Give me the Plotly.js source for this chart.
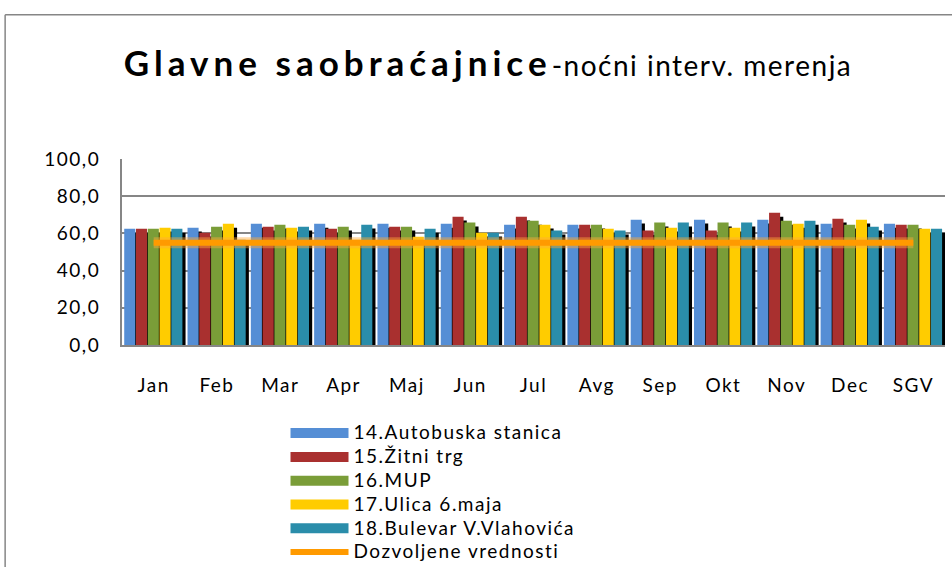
<!DOCTYPE html>
<html>
<head>
<meta charset="utf-8">
<script src="https://cdn.plot.ly/plotly-3.0.1.min.js"></script>
<style>
  html, body { margin: 0; padding: 0; background: #ffffff; }
  #chart { width: 952px; height: 567px; }
  text { letter-spacing: 1.5px; }
</style>
</head>
<body>
<div id="chart"></div>
<script>
// ---- data ----
const months = ["Jan", "Feb", "Mar", "Apr", "Maj", "Jun", "Jul", "Avg", "Sep", "Okt", "Nov", "Dec", "SGV"];
const seriesNames = ["14.Autobuska stanica", "15.Žitni trg", "16.MUP", "17.Ulica 6.maja", "18.Bulevar V.Vlahovića"];
const autobuskaStanica = [62.5, 63.1, 65.2, 65.2, 65.2, 65.2, 64.7, 64.7, 67.4, 67.4, 67.4, 65.2, 65.2];
const zitniTrg         = [62.5, 60.4, 63.6, 62.5, 63.6, 69.0, 69.0, 64.7, 61.5, 61.5, 71.1, 67.9, 64.7];
const mup              = [62.5, 63.6, 64.7, 63.6, 63.6, 65.8, 66.8, 64.7, 65.8, 65.8, 66.8, 64.7, 64.7];
const ulica6maja       = [63.1, 65.2, 63.1, 56.6, 58.2, 60.4, 64.7, 62.5, 63.1, 63.1, 65.2, 67.4, 62.5];
const bulevar          = [62.5, 56.6, 63.6, 64.7, 62.5, 60.4, 61.5, 61.5, 65.8, 65.8, 66.8, 63.6, 62.5];
const limitName = "Dozvoljene vrednosti";
const dozvoljeneVrednosti = [55, 55, 55, 55, 55, 55, 55, 55, 55, 55, 55, 55, 55];
const yTicks = [0, 20, 40, 60, 80, 100];

// ---- styles ----
const seriesValues = [autobuskaStanica, zitniTrg, mup, ulica6maja, bulevar];
const colors = ["#558ED5", "#A9302F", "#7A9D38", "#FFCC00", "#2A8DAA"];
const FONT = "Lato, 'Open Sans', sans-serif";
const barWidth = 0.175;
const slot = 0.186;
const firstOffset = -0.465;
const shadowShift = 0.05;
const shadowDrop = -2.1;
const legendLabel = n => "<span style=\"font-size:19px\">" + n + "</span>";

const traces = [];
// shadows
seriesValues.forEach((vals, i) => {
  traces.push({
    type: "bar", x: months, y: vals,
    base: shadowDrop,
    offset: firstOffset + i * slot + shadowShift, width: barWidth,
    marker: { color: "#000000", line: { width: 0 } },
    showlegend: false, hoverinfo: "skip"
  });
});
// bars
seriesValues.forEach((vals, i) => {
  traces.push({
    type: "bar", x: months, y: vals, name: seriesNames[i],
    offset: firstOffset + i * slot, width: barWidth,
    marker: { color: colors[i], line: { width: 0 } },
    showlegend: false
  });
});
// limit line glow + line
traces.push({
  type: "scatter", mode: "lines", x: months, y: dozvoljeneVrednosti,
  line: { color: "rgba(255,170,60,0.45)", width: 11 },
  showlegend: false, hoverinfo: "skip"
});
traces.push({
  type: "scatter", mode: "lines", x: months, y: dozvoljeneVrednosti, name: legendLabel(limitName),
  line: { color: "#FF9A00", width: 6 },
  legendrank: 6
});
// legend entries for bars (wide swatches)
seriesNames.forEach((n, i) => {
  traces.push({
    type: "scatter", mode: "lines", x: [null], y: [null], name: legendLabel(n),
    line: { color: colors[i], width: 14 },
    legendrank: i + 1, hoverinfo: "skip"
  });
});

const layout = {
  width: 952, height: 567,
  margin: { l: 122, r: 7, t: 159, b: 222, pad: 0, autoexpand: false },
  paper_bgcolor: "#ffffff", plot_bgcolor: "#ffffff",
  barmode: "overlay",
  separators: ",.",
  font: { family: FONT, size: 19, color: "#000000" },
  title: {
    text: "<b><span style=\"font-size:35px;letter-spacing:5px\">Glavne saobraćajnice</span></b><span style=\"font-size:28px\">-noćni interv. merenja</span>",
    x: 0.5126, xanchor: "center", xref: "container",
    y: 0.884, yanchor: "middle", yref: "container",
    font: { family: FONT, size: 28, color: "#000000" }
  },
  xaxis: {
    type: "category", categoryorder: "array", categoryarray: months,
    range: [-0.5, 12.5], tickangle: 0, automargin: false,
    showgrid: false, showline: true, linecolor: "#868686", linewidth: 2,
    ticks: "", ticklabelstandoff: 22,
    tickfont: { family: FONT, size: 19, color: "#000000" }
  },
  yaxis: {
    range: [0, 100], tickvals: yTicks, tickformat: ".1f", automargin: false,
    showgrid: true, gridcolor: "#868686", gridwidth: 2,
    showline: true, linecolor: "#868686", linewidth: 2,
    zeroline: false,
    ticks: "", ticklabelstandoff: 16,
    tickfont: { family: FONT, size: 19, color: "#000000" }
  },
  legend: {
    xref: "container", yref: "container",
    x: 0.2999, y: 0.266, xanchor: "left", yanchor: "top",
    bgcolor: "rgba(0,0,0,0)", borderwidth: 0, maxheight: 600,
    font: { family: FONT, size: 16, color: "#000000" },
    itemwidth: 58, tracegroupgap: 0, traceorder: "normal"
  },
  shapes: [
    { type: "line", xref: "paper", yref: "paper", x0: -0.142, x1: 1.2, y0: 1.776, y1: 1.776,
      line: { color: "#868686", width: 1.5 } },
    { type: "line", xref: "paper", yref: "paper", x0: -0.142, x1: -0.142, y0: 1.776, y1: -1.5,
      line: { color: "#868686", width: 1.5 } }
  ],
  hovermode: false
};

Plotly.newPlot("chart", traces, layout, { displayModeBar: false, staticPlot: true });
</script>
</body>
</html>
